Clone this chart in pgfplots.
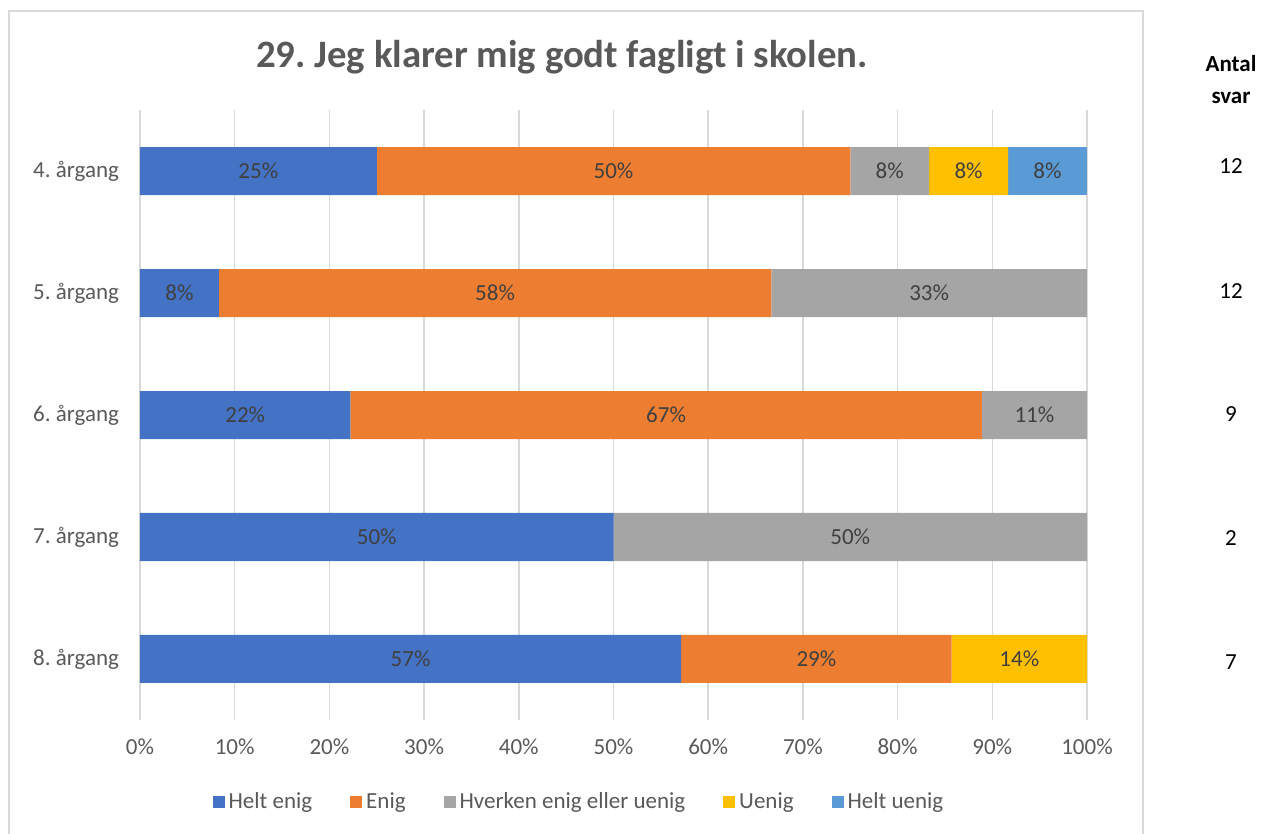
\documentclass[border=0pt]{standalone}
\usepackage{fontspec}
\setmainfont{Carlito}
\usepackage{pgfplots}
\usepackage{pgfplotstable}
\pgfplotsset{compat=1.18}
\frenchspacing

\definecolor{heltenig}{HTML}{4472C4}
\definecolor{enig}{HTML}{ED7D31}
\definecolor{hverken}{HTML}{A5A5A5}
\definecolor{uenig}{HTML}{FFC000}
\definecolor{heltuenig}{HTML}{5B9BD5}
\definecolor{gridgray}{HTML}{D9D9D9}
\definecolor{txtgray}{HTML}{595959}
\definecolor{lblgray}{HTML}{404040}

% andel i procent pr. aargang
\pgfplotstableread{
idx helt   enig   hverken uenig  heltuenig
0   25     50     8.333   8.333  8.333
1   8.333  58.333 33.333  0      0
2   22.222 66.667 11.111  0      0
3   50     0      50      0      0
4   57.143 28.571 0       14.286 0
}\data

\begin{document}
\begin{tikzpicture}
\useasboundingbox (0,0) rectangle (633pt,417pt);
\draw[gridgray, line width=0.75pt] (4.5pt,-1pt) -- (4.5pt,411.5pt) -- (571.5pt,411.5pt) -- (571.5pt,-1pt);

\begin{axis}[
  at={(70pt,57pt)}, anchor=south west,
  scale only axis, width=473.5pt, height=305pt,
  xbar stacked, bar width=24pt,
  xmin=0, xmax=100, ymin=-0.5, ymax=4.5,
  y dir=reverse,
  xtick={0,10,...,100},
  xticklabels={0\%,10\%,20\%,30\%,40\%,50\%,60\%,70\%,80\%,90\%,100\%},
  ytick={0,1,2,3,4},
  yticklabels={4. årgang,5. årgang,6. årgang,7. årgang,8. årgang},
  xmajorgrids, grid style={gridgray, line width=0.75pt},
  axis line style={draw=none}, tick style={draw=none},
  tick label style={font=\fontsize{11.5}{13}\selectfont, text=txtgray},
  xticklabel style={yshift=-6pt},
  yticklabel style={xshift=-7pt},
  /pgf/number format/assume math mode=true,
  point meta=explicit,
  nodes near coords={\pgfmathfloatifflags{\pgfplotspointmeta}{0}{}{\pgfmathprintnumber[fixed,precision=0]{\pgfplotspointmeta}\%}},
  every node near coord/.append style={anchor=center,
    font=\fontsize{11.5}{13}\selectfont, text=lblgray},
  legend columns=-1,
  legend style={at={(0.4646,-0.1344)}, anchor=center, draw=none,
    font=\fontsize{11.5}{13}\selectfont, text=txtgray,
    /tikz/every even column/.append style={column sep=17pt}},
  legend image code/.code={\fill[#1] (0pt,-3pt) rectangle (6pt,3pt);},
  clip=false,
]
\addplot[fill=heltenig, draw=none] table[x=helt, y=idx, meta=helt] {\data};
\addplot[fill=enig, draw=none] table[x=enig, y=idx, meta=enig] {\data};
\addplot[fill=hverken, draw=none] table[x=hverken, y=idx, meta=hverken] {\data};
\addplot[fill=uenig, draw=none] table[x=uenig, y=idx, meta=uenig] {\data};
\addplot[fill=heltuenig, draw=none] table[x=heltuenig, y=idx, meta=heltuenig] {\data};
\legend{Helt enig, Enig, Hverken enig eller uenig, Uenig, Helt uenig}
\end{axis}

\node[font=\fontsize{19.4}{22}\selectfont\bfseries, text=txtgray] at (281pt,388.5pt)
  {29. Jeg klarer mig godt fagligt i skolen.};
\node[align=center, font=\fontsize{11.5}{16}\selectfont\bfseries] at (615.5pt,377pt) {Antal\\svar};
\begin{scope}[font=\fontsize{11.5}{13}\selectfont]
\node at (615.5pt,334pt) {12};
\node at (615.5pt,271.5pt) {12};
\node at (615.5pt,210pt) {9};
\node at (615.5pt,148pt) {2};
\node at (615.5pt,86pt) {7};
\end{scope}
\end{tikzpicture}
\end{document}
